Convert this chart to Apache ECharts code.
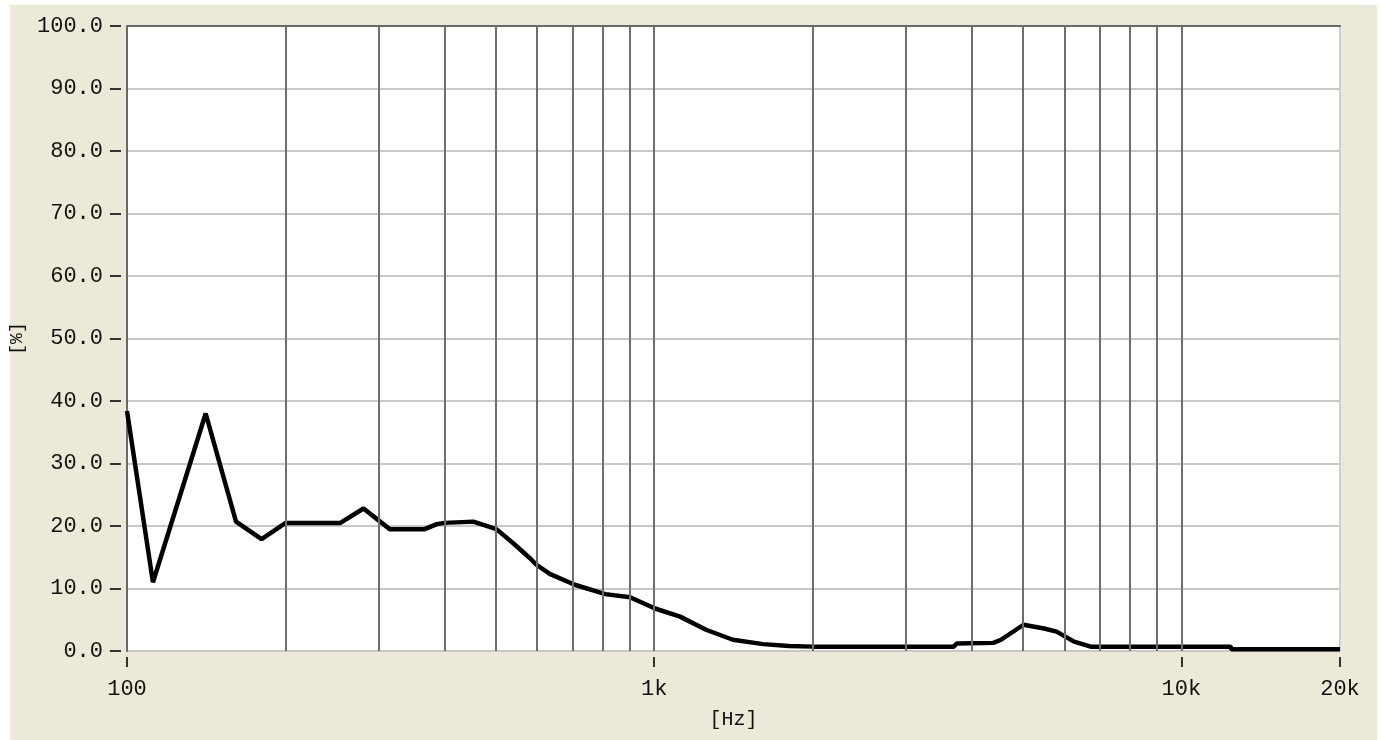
<!DOCTYPE html>
<html>
<head>
<meta charset="utf-8">
<script src="https://cdn.jsdelivr.net/npm/echarts@6/dist/echarts.min.js"></script>
<style>
html, body { margin: 0; padding: 0; background: #fff; }
#main { width: 1381px; height: 740px; }
</style>
</head>
<body>
<div id="main"></div>
<script>
// frequency [Hz] and level [%]
var freqs = [100, 112, 141, 161, 180, 200, 254, 281, 315, 367, 387, 400, 454, 502, 541, 582, 598, 635, 707, 808, 900, 1004, 1120, 1254, 1410, 1610, 1800, 2000, 3700, 3750, 4400, 4550, 5020, 5490, 5800, 6260, 6730, 10000, 12400, 12450, 20000];
var values = [38.4, 11, 38, 20.7, 17.9, 20.5, 20.5, 22.8, 19.5, 19.5, 20.3, 20.5, 20.7, 19.5, 17.2, 14.8, 13.8, 12.3, 10.6, 9.1, 8.6, 6.8, 5.5, 3.4, 1.8, 1.1, 0.8, 0.7, 0.7, 1.2, 1.3, 1.8, 4.2, 3.6, 3.1, 1.5, 0.7, 0.7, 0.7, 0.3, 0.3];
// vertical grid lines
var vGrid = [200, 300, 400, 500, 600, 700, 800, 900, 1000, 2000, 3000, 4000, 5000, 6000, 7000, 8000, 9000, 10000];

var font = 'Liberation Mono';
var myChart = echarts.init(document.getElementById('main'));

var option = {
    animation: false,
    backgroundColor: '#ffffff',
    graphic: [{
        type: 'rect',
        z: -10,
        shape: { x: 10, y: 5, width: 1367, height: 735 },
        style: { fill: '#ECE9D8' }
    }],
    grid: {
        left: 127, right: 41, top: 26, bottom: 89,
        show: true,
        backgroundColor: '#ffffff',
        borderColor: '#d0d0d0',
        borderWidth: 2
    },
    xAxis: [{
        type: 'log',
        logBase: 10,
        min: 100,
        max: 20000,
        offset: 6,
        name: '[Hz]',
        nameLocation: 'middle',
        nameGap: 53,
        nameTextStyle: { fontFamily: font, fontSize: 20, color: '#111' },
        axisLine: { show: false, onZero: false },
        axisTick: { show: true, length: 10, lineStyle: { color: '#333', width: 2 } },
        axisLabel: {
            margin: 21,
            fontFamily: font, fontSize: 22, color: '#111',
            showMinLabel: true, showMaxLabel: true,
            formatter: function (v) {
                v = Math.round(v);
                return v >= 1000 ? (v / 1000) + 'k' : String(v);
            }
        },
        splitLine: { show: false }
    }, {
        type: 'log',
        logBase: 10,
        min: 100,
        max: 20000,
        position: 'top',
        axisLine: { show: true, onZero: false, lineStyle: { color: '#6a6a6a', width: 2 } },
        axisTick: { show: false },
        axisLabel: { show: false },
        splitLine: { show: false }
    }],
    yAxis: [{
        type: 'value',
        min: 0,
        max: 100,
        interval: 10,
        offset: 6,
        name: '[%]',
        nameLocation: 'middle',
        nameGap: 92,
        nameTextStyle: { fontFamily: font, fontSize: 18, color: '#111' },
        axisLine: { show: false, onZero: false },
        axisTick: { show: true, length: 11, lineStyle: { color: '#333', width: 2 } },
        axisLabel: {
            margin: 18,
            fontFamily: font, fontSize: 22, color: '#111',
            formatter: function (v) { return v.toFixed(1); }
        },
        splitLine: { show: true, lineStyle: { color: '#c8c8c8', width: 2 } }
    }, {
        type: 'value',
        min: 0,
        max: 100,
        position: 'left',
        axisLine: { show: true, onZero: false, lineStyle: { color: '#6a6a6a', width: 2 } },
        axisTick: { show: false },
        axisLabel: { show: false },
        splitLine: { show: false }
    }],
    series: [{
        type: 'line',
        z: 1,
        data: [],
        silent: true,
        markLine: {
            silent: true,
            symbol: 'none',
            label: { show: false },
            lineStyle: { color: '#6e6e6e', width: 2, type: 'solid' },
            data: vGrid.map(function (f) { return { xAxis: f }; })
        }
    }, {
        type: 'line',
        z: 3,
        data: freqs.map(function (f, i) { return [f, values[i]]; }),
        showSymbol: false,
        lineStyle: { color: '#000', width: 4.5 }
    }]
};
myChart.setOption(option);
</script>
</body>
</html>
